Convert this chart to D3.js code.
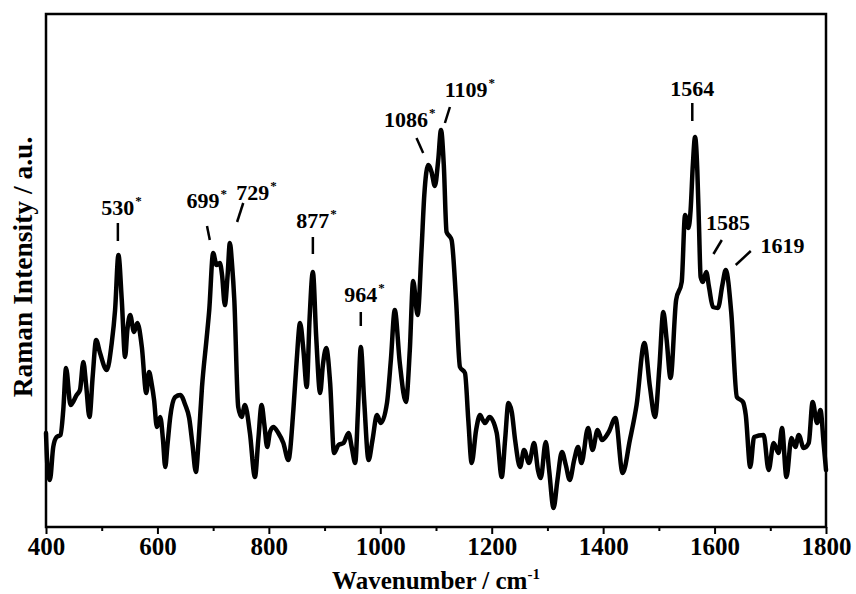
<!DOCTYPE html>
<html>
<head>
<meta charset="utf-8">
<script src="https://cdn.jsdelivr.net/npm/d3@7"></script>
<style>
  html, body { margin: 0; padding: 0; background: #fff; }
  svg { display: block; }
  text { font-family: "Liberation Serif", "Times New Roman", serif; font-weight: bold; fill: #000; }
</style>
</head>
<body>
<svg id="chart" width="856" height="594"></svg>
<script>
// Raman spectrum: wavenumber (cm-1) and intensity (a.u.)
const wavenumber = [
  400, 403, 407, 413, 419, 426, 431, 436, 444, 455, 461, 467, 472, 478, 484, 490, 497, 509, 518, 524,
  530, 536, 542, 546, 551, 558, 564, 572, 580, 585, 590, 594, 599, 605, 610, 614, 618, 623, 632, 641,
  650, 657, 663, 669, 674, 680, 688, 693, 700, 706, 712, 716, 721, 726, 730, 734, 738, 745, 751, 757,
  766, 775, 781, 787, 792, 797, 802, 808, 817, 826, 835, 844, 850, 856, 862, 868, 873, 879, 885, 892,
  897, 903, 910, 917, 925, 934, 943, 949, 955, 960, 965, 971, 979, 986, 994, 1001, 1012, 1019, 1026, 1035,
  1046, 1053, 1059, 1067, 1074, 1079, 1086, 1092, 1098, 1104, 1109, 1114, 1119, 1124, 1128, 1136, 1143, 1152, 1158, 1164,
  1172, 1179, 1184, 1188, 1196, 1209, 1218, 1224, 1230, 1236, 1242, 1251, 1258, 1267, 1276, 1283, 1288, 1297, 1303, 1311,
  1318, 1326, 1333, 1340, 1348, 1355, 1361, 1373, 1381, 1390, 1398, 1410, 1422, 1435, 1448, 1460, 1474, 1484, 1493, 1501,
  1508, 1514, 1521, 1531, 1541, 1547, 1553, 1557, 1561, 1565, 1569, 1572, 1575, 1579, 1585, 1590, 1597, 1606, 1614, 1620,
  1630, 1640, 1651, 1656, 1664, 1671, 1688, 1697, 1706, 1715, 1721, 1729, 1738, 1745, 1751, 1760, 1769, 1776, 1784, 1790,
  1796, 1800
];
const intensity = [
  94, 57, 47, 80, 90, 92, 117, 159, 122, 132, 137, 165, 142, 110, 152, 187, 174, 157, 184, 217,
  272, 227, 170, 197, 212, 195, 204, 180, 134, 155, 142, 127, 100, 110, 87, 60, 82, 110, 130, 132,
  122, 109, 82, 55, 87, 140, 187, 217, 274, 262, 264, 252, 222, 252, 284, 262, 227, 120, 110, 122,
  94, 50, 87, 122, 102, 80, 95, 100, 94, 84, 67, 117, 167, 204, 177, 140, 207, 255, 190, 134,
  162, 179, 144, 74, 82, 84, 94, 79, 64, 117, 180, 127, 67, 87, 112, 104, 124, 167, 217, 164,
  125, 177, 246, 212, 277, 332, 362, 355, 341, 367, 397, 362, 295, 291, 287, 227, 160, 154, 107, 64,
  97, 112, 107, 104, 110, 94, 50, 87, 124, 115, 87, 60, 77, 64, 84, 57, 49, 85, 57, 19,
  47, 75, 62, 47, 67, 80, 64, 99, 77, 97, 87, 95, 109, 54, 87, 122, 184, 140, 110, 160,
  215, 187, 149, 227, 245, 312, 299, 317, 362, 390, 357, 302, 250, 245, 255, 240, 220, 219, 242, 257,
  214, 130, 125, 112, 60, 90, 92, 57, 84, 74, 99, 50, 89, 80, 92, 79, 84, 125, 104, 117,
  82, 57
];

// Axis ticks
const xMajorTicks = [400, 600, 800, 1000, 1200, 1400, 1600, 1800];
const xMinorTicks = [500, 700, 900, 1100, 1300, 1500, 1700];

// Peak assignments: label text, starred band, leader line and label anchor (data units)
const peakLabels  = ["530", "699", "729", "877", "964", "1086", "1109", "1564", "1585", "1619"];
const peakStarred = [true, true, true, true, true, true, true, false, false, false];
const leaderFrom  = [[529, 304], [689, 301], [754, 324], [879, 290], [965, 215], [1065, 389], [1125, 420], [1560, 424], [1613, 287], [1665, 276]];
const leaderTo    = [[529, 286], [694, 287], [743, 305], [879, 273], [965, 201], [1077, 374], [1116, 404], [1560, 406], [1598, 273], [1638, 262]];
const labelAt     = [[529, 312], [682, 319], [771, 327], [879, 299], [965, 225], [1046, 400], [1154, 430], [1560, 431], [1624, 297], [1722, 274]];

const svg = d3.select("#chart");
const plot = { left: 46, right: 826, top: 14, bottom: 527 };

const x = d3.scaleLinear().domain([400, 1800]).range([plot.left, plot.right]);
const y = d3.scaleLinear().domain([0, 513]).range([plot.bottom, plot.top]);

// Spectrum trace
const series = wavenumber.map((w, i) => [w, intensity[i]]);
const line = d3.line()
  .x(d => x(d[0]))
  .y(d => y(d[1]))
  .curve(d3.curveMonotoneX);

svg.append("path")
  .datum(series)
  .attr("d", line)
  .attr("fill", "none")
  .attr("stroke", "#000")
  .attr("stroke-width", 4.5)
  .attr("stroke-linejoin", "round")
  .attr("stroke-linecap", "round");

// Frame
svg.append("rect")
  .attr("x", plot.left)
  .attr("y", plot.top)
  .attr("width", plot.right - plot.left)
  .attr("height", plot.bottom - plot.top)
  .attr("fill", "none")
  .attr("stroke", "#000")
  .attr("stroke-width", 2.5);

// Bottom axis: labelled major ticks, short minor ticks
const xAxis = d3.axisBottom(x)
  .tickValues(xMajorTicks)
  .tickSize(7)
  .tickPadding(3)
  .tickFormat(d3.format("d"));
const gx = svg.append("g")
  .attr("transform", `translate(0,${plot.bottom})`)
  .call(xAxis);
gx.select(".domain").remove();
gx.selectAll(".tick line").attr("stroke", "#000").attr("stroke-width", 2);
gx.selectAll(".tick text")
  .attr("font-size", 25)
  .attr("font-family", "'Liberation Serif', 'Times New Roman', serif")
  .attr("font-weight", "bold")
  .attr("fill", "#000");

const xMinor = d3.axisBottom(x).tickValues(xMinorTicks).tickSize(4).tickFormat("");
const gm = svg.append("g")
  .attr("transform", `translate(0,${plot.bottom})`)
  .call(xMinor);
gm.select(".domain").remove();
gm.selectAll(".tick line").attr("stroke", "#000").attr("stroke-width", 2);

// Axis titles
const xTitle = svg.append("text")
  .attr("x", (plot.left + plot.right) / 2)
  .attr("y", 589)
  .attr("text-anchor", "middle")
  .attr("font-size", 25);
xTitle.append("tspan").text("Wavenumber / cm");
xTitle.append("tspan").attr("font-size", 15).attr("dy", -10).text("-1");

svg.append("text")
  .attr("transform", `translate(32,267) rotate(-90)`)
  .attr("text-anchor", "middle")
  .attr("font-size", 27.5)
  .text("Raman Intensity / a.u.");

// Peak annotations
const ann = svg.append("g");
peakLabels.forEach((label, i) => {
  ann.append("line")
    .attr("x1", x(leaderFrom[i][0])).attr("y1", y(leaderFrom[i][1]))
    .attr("x2", x(leaderTo[i][0])).attr("y2", y(leaderTo[i][1]))
    .attr("stroke", "#000")
    .attr("stroke-width", 2.5);
  const t = ann.append("text")
    .attr("x", x(labelAt[i][0]))
    .attr("y", y(labelAt[i][1]))
    .attr("text-anchor", "middle")
    .attr("font-size", 22)
    .text(label);
  if (peakStarred[i]) {
    const bb = t.node().getBBox();
    ann.append("text")
      .attr("x", bb.x + bb.width + 1)
      .attr("y", y(labelAt[i][1]) - 10)
      .attr("font-size", 13)
      .attr("font-weight", "normal")
      .text("*");
  }
});
</script>
</body>
</html>
